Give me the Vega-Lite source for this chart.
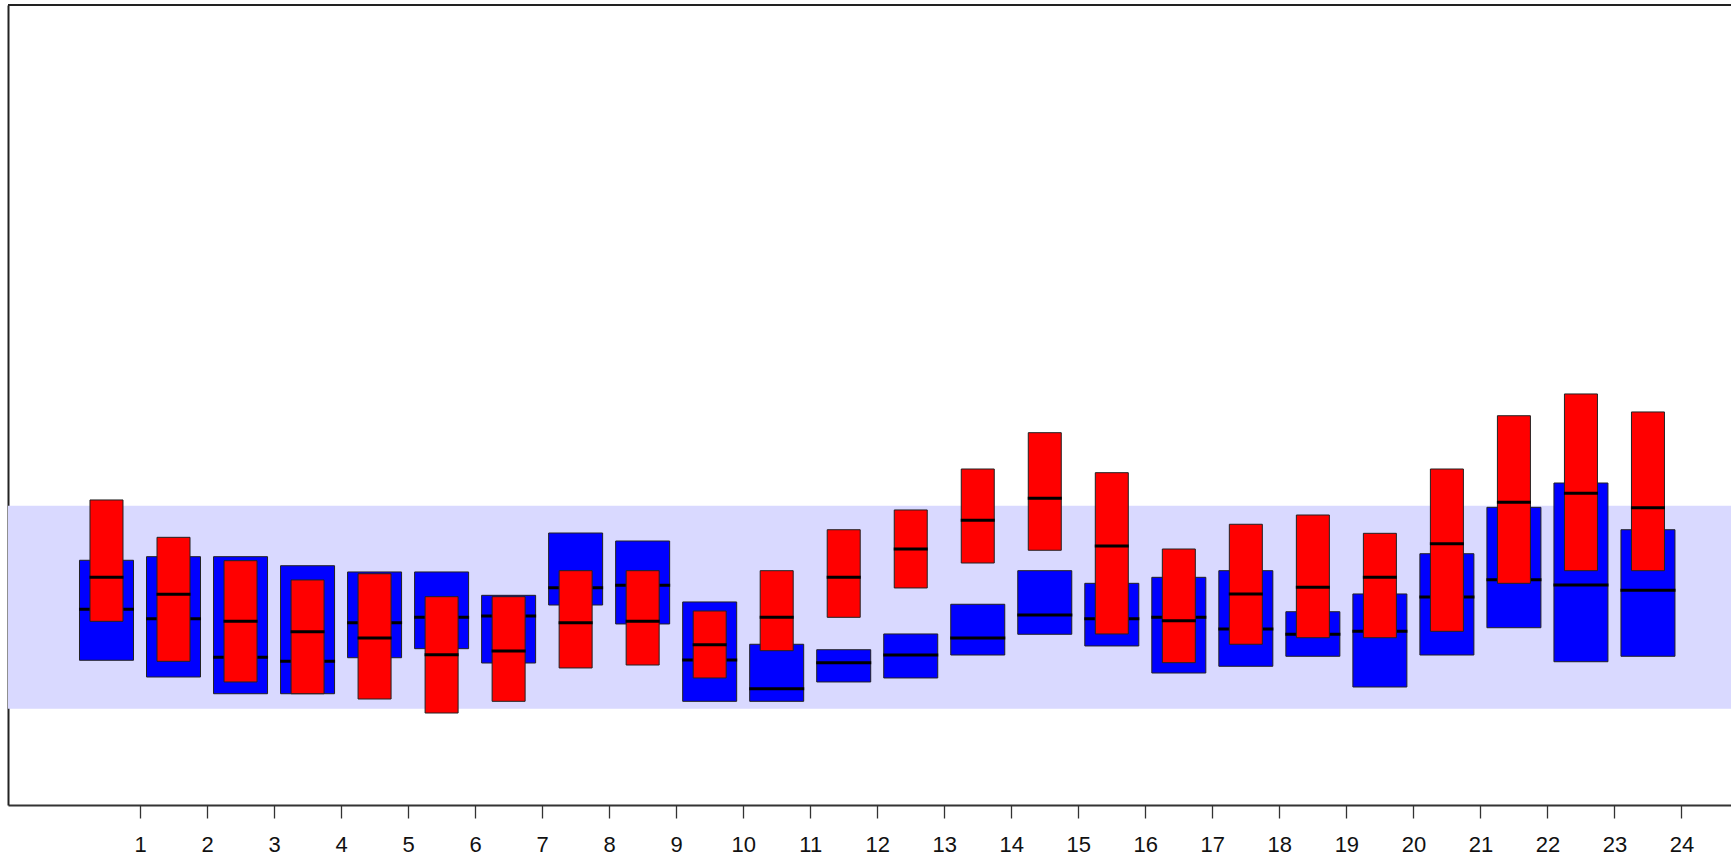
{
  "$schema": "https://vega.github.io/schema/vega-lite/v6.json",
  "width": 1723,
  "height": 800,
  "autosize": {"type": "none"},
  "padding": {"left": 8, "top": 5, "right": 0, "bottom": 51},
  "background": "white",
  "config": {"view": {"stroke": null}},
  "data": {
    "values": [
      {"pos": 0.5, "group": "blue", "low": 18.09, "mid": 24.46, "high": 30.59},
      {"pos": 1.5, "group": "blue", "low": 16.0, "mid": 23.29, "high": 31.04},
      {"pos": 2.5, "group": "blue", "low": 13.91, "mid": 18.46, "high": 31.04},
      {"pos": 3.5, "group": "blue", "low": 13.91, "mid": 17.96, "high": 29.91},
      {"pos": 4.5, "group": "blue", "low": 18.41, "mid": 22.79, "high": 29.13},
      {"pos": 5.5, "group": "blue", "low": 19.54, "mid": 23.46, "high": 29.13},
      {"pos": 6.5, "group": "blue", "low": 17.75, "mid": 23.63, "high": 26.21},
      {"pos": 7.5, "group": "blue", "low": 25.0, "mid": 27.16, "high": 34.0},
      {"pos": 8.5, "group": "blue", "low": 22.63, "mid": 27.46, "high": 33.0},
      {"pos": 9.5, "group": "blue", "low": 12.96, "mid": 18.13, "high": 25.38},
      {"pos": 10.5, "group": "blue", "low": 12.96, "mid": 14.54, "high": 20.09},
      {"pos": 11.5, "group": "blue", "low": 15.38, "mid": 17.79, "high": 19.41},
      {"pos": 12.5, "group": "blue", "low": 15.88, "mid": 18.75, "high": 21.38},
      {"pos": 13.5, "group": "blue", "low": 18.75, "mid": 20.88, "high": 25.09},
      {"pos": 14.5, "group": "blue", "low": 21.34, "mid": 23.75, "high": 29.29},
      {"pos": 15.5, "group": "blue", "low": 19.88, "mid": 23.29, "high": 27.71},
      {"pos": 16.5, "group": "blue", "low": 16.5, "mid": 23.46, "high": 28.46},
      {"pos": 17.5, "group": "blue", "low": 17.34, "mid": 22.0, "high": 29.29},
      {"pos": 18.5, "group": "blue", "low": 18.59, "mid": 21.34, "high": 24.16},
      {"pos": 19.5, "group": "blue", "low": 14.75, "mid": 21.71, "high": 26.38},
      {"pos": 20.5, "group": "blue", "low": 18.75, "mid": 26.0, "high": 31.41},
      {"pos": 21.5, "group": "blue", "low": 22.16, "mid": 28.16, "high": 37.21},
      {"pos": 22.5, "group": "blue", "low": 17.91, "mid": 27.5, "high": 40.25},
      {"pos": 23.5, "group": "blue", "low": 18.59, "mid": 26.84, "high": 34.41},
      {"pos": 0.5, "group": "red", "low": 22.96, "mid": 28.46, "high": 38.13},
      {"pos": 1.5, "group": "red", "low": 17.96, "mid": 26.34, "high": 33.46},
      {"pos": 2.5, "group": "red", "low": 15.38, "mid": 22.96, "high": 30.54},
      {"pos": 3.5, "group": "red", "low": 13.91, "mid": 21.66, "high": 28.13},
      {"pos": 4.5, "group": "red", "low": 13.25, "mid": 20.88, "high": 28.91},
      {"pos": 5.5, "group": "red", "low": 11.5, "mid": 18.79, "high": 26.04},
      {"pos": 6.5, "group": "red", "low": 12.96, "mid": 19.25, "high": 26.04},
      {"pos": 7.5, "group": "red", "low": 17.13, "mid": 22.79, "high": 29.29},
      {"pos": 8.5, "group": "red", "low": 17.5, "mid": 22.96, "high": 29.29},
      {"pos": 9.5, "group": "red", "low": 15.88, "mid": 20.04, "high": 24.25},
      {"pos": 10.5, "group": "red", "low": 19.29, "mid": 23.46, "high": 29.29},
      {"pos": 11.5, "group": "red", "low": 23.46, "mid": 28.46, "high": 34.41},
      {"pos": 12.5, "group": "red", "low": 27.13, "mid": 32.0, "high": 36.88},
      {"pos": 13.5, "group": "red", "low": 30.25, "mid": 35.59, "high": 42.0},
      {"pos": 14.5, "group": "red", "low": 31.84, "mid": 38.34, "high": 46.54},
      {"pos": 15.5, "group": "red", "low": 21.38, "mid": 32.38, "high": 41.54},
      {"pos": 16.5, "group": "red", "low": 17.79, "mid": 23.04, "high": 32.0},
      {"pos": 17.5, "group": "red", "low": 20.09, "mid": 26.38, "high": 35.09},
      {"pos": 18.5, "group": "red", "low": 20.91, "mid": 27.21, "high": 36.25},
      {"pos": 19.5, "group": "red", "low": 20.91, "mid": 28.46, "high": 33.96},
      {"pos": 20.5, "group": "red", "low": 21.71, "mid": 32.66, "high": 42.0},
      {"pos": 21.5, "group": "red", "low": 27.71, "mid": 37.84, "high": 48.66},
      {"pos": 22.5, "group": "red", "low": 29.29, "mid": 38.96, "high": 51.38},
      {"pos": 23.5, "group": "red", "low": 29.29, "mid": 37.16, "high": 49.13}
    ]
  },
  "layer": [
    {
      "data": {"values": [{"bandLow": 12.04, "bandHigh": 37.41}]},
      "mark": {"type": "rect", "color": "#D9D9FF"},
      "encoding": {
        "y": {"field": "bandLow", "type": "quantitative", "scale": {"domain": [0, 100], "nice": false, "zero": false, "padding": 0}},
        "y2": {"field": "bandHigh"}
      }
    },
    {
      "transform": [{"filter": "datum.group === 'blue'"}],
      "mark": {"type": "bar", "width": 54, "fill": "#0000FF", "stroke": "#222222", "strokeWidth": 1},
      "encoding": {
        "x": {"field": "pos", "type": "quantitative", "scale": {"domain": [-0.9696, 24.739], "nice": false, "zero": false, "padding": 0},
          "axis": {"values": [1,2,3,4,5,6,7,8,9,10,11,12,13,14,15,16,17,18,19,20,21,22,23,24], "format": "d", "title": null, "grid": false,
            "labelFont": "Liberation Sans", "labelFontSize": 22, "labelColor": "#111111", "labelPadding": 16,
            "labelFlush": false, "labelOverlap": false, "tickColor": "#333333", "tickSize": 13, "tickWidth": 1.3,
            "domainColor": "#333333", "domainWidth": 2}},
        "y": {"field": "low", "type": "quantitative",
          "axis": {"title": null, "labels": false, "ticks": false, "grid": false, "domainColor": "#222222", "domainWidth": 2}},
        "y2": {"field": "high"}
      }
    },
    {
      "transform": [{"filter": "datum.group === 'blue'"}],
      "mark": {"type": "tick", "orient": "horizontal", "size": 55, "thickness": 3, "color": "#000000", "opacity": 1},
      "encoding": {
        "x": {"field": "pos", "type": "quantitative"},
        "y": {"field": "mid", "type": "quantitative"}
      }
    },
    {
      "transform": [{"filter": "datum.group === 'red'"}],
      "mark": {"type": "bar", "width": 33, "fill": "#FF0000", "stroke": "#222222", "strokeWidth": 1},
      "encoding": {
        "x": {"field": "pos", "type": "quantitative"},
        "y": {"field": "low", "type": "quantitative"},
        "y2": {"field": "high"}
      }
    },
    {
      "transform": [{"filter": "datum.group === 'red'"}],
      "mark": {"type": "tick", "orient": "horizontal", "size": 34, "thickness": 3, "color": "#000000", "opacity": 1},
      "encoding": {
        "x": {"field": "pos", "type": "quantitative"},
        "y": {"field": "mid", "type": "quantitative"}
      }
    },
    {
      "mark": {"type": "rule", "color": "#222222", "strokeWidth": 2},
      "encoding": {"y": {"datum": 100}}
    }
  ]
}
